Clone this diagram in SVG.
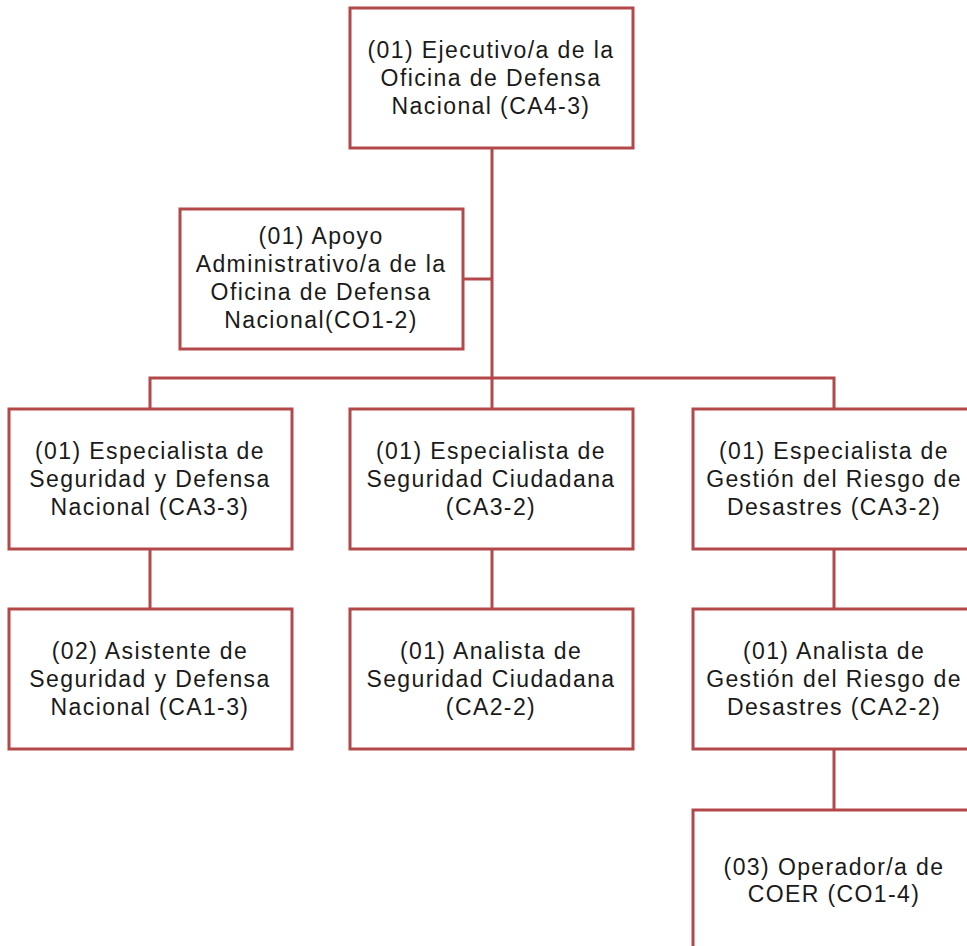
<svg xmlns="http://www.w3.org/2000/svg" width="967" height="946" viewBox="0 0 967 946">
  <style>
    .box { fill: #ffffff; stroke: #b3484b; stroke-width: 3; }
    .link { fill: none; stroke: #b3484b; stroke-width: 3; }
    .label { font-family: "Liberation Sans", Arial, sans-serif; font-size: 23px; letter-spacing: 1.4px; fill: #1a1a1a; text-anchor: middle; }
  </style>
  <rect width="967" height="946" fill="#ffffff"/>

  <g id="connectors">
    <path class="link" d="M492 149 V378"/>
    <path class="link" d="M463 279 H492"/>
    <path class="link" d="M150 409 V378 H834 V409"/>
    <path class="link" d="M492 378 V409"/>
    <path class="link" d="M150 549 V609"/>
    <path class="link" d="M492 549 V609"/>
    <path class="link" d="M834 549 V609"/>
    <path class="link" d="M834 749 V810"/>
  </g>

  <g id="ejecutivo">
    <rect class="box" x="350" y="8" width="283" height="140"/>
    <text class="label" x="491" y="58">(01) Ejecutivo/a de la</text>
    <text class="label" x="491" y="86">Oficina de Defensa</text>
    <text class="label" x="491" y="114">Nacional (CA4-3)</text>
  </g>

  <g id="apoyo">
    <rect class="box" x="180" y="209" width="283" height="140"/>
    <text class="label" x="321" y="244">(01) Apoyo</text>
    <text class="label" x="321" y="272">Administrativo/a de la</text>
    <text class="label" x="321" y="300">Oficina de Defensa</text>
    <text class="label" x="321" y="328">Nacional(CO1-2)</text>
  </g>

  <g id="esp-seguridad-defensa">
    <rect class="box" x="9" y="409" width="283" height="140"/>
    <text class="label" x="150" y="459">(01) Especialista de</text>
    <text class="label" x="150" y="487">Seguridad y Defensa</text>
    <text class="label" x="150" y="515">Nacional (CA3-3)</text>
  </g>

  <g id="esp-seguridad-ciudadana">
    <rect class="box" x="350" y="409" width="283" height="140"/>
    <text class="label" x="491" y="459">(01) Especialista de</text>
    <text class="label" x="491" y="487">Seguridad Ciudadana</text>
    <text class="label" x="491" y="515">(CA3-2)</text>
  </g>

  <g id="esp-gestion-riesgo">
    <rect class="box" x="693" y="409" width="283" height="140"/>
    <text class="label" x="834" y="459">(01) Especialista de</text>
    <text class="label" x="834" y="487">Gestión del Riesgo de</text>
    <text class="label" x="834" y="515">Desastres (CA3-2)</text>
  </g>

  <g id="asistente-seguridad-defensa">
    <rect class="box" x="9" y="609" width="283" height="140"/>
    <text class="label" x="150" y="659">(02) Asistente de</text>
    <text class="label" x="150" y="687">Seguridad y Defensa</text>
    <text class="label" x="150" y="715">Nacional (CA1-3)</text>
  </g>

  <g id="analista-seguridad-ciudadana">
    <rect class="box" x="350" y="609" width="283" height="140"/>
    <text class="label" x="491" y="659">(01) Analista de</text>
    <text class="label" x="491" y="687">Seguridad Ciudadana</text>
    <text class="label" x="491" y="715">(CA2-2)</text>
  </g>

  <g id="analista-gestion-riesgo">
    <rect class="box" x="693" y="609" width="283" height="140"/>
    <text class="label" x="834" y="659">(01) Analista de</text>
    <text class="label" x="834" y="687">Gestión del Riesgo de</text>
    <text class="label" x="834" y="715">Desastres (CA2-2)</text>
  </g>

  <g id="operador-coer">
    <rect class="box" x="693" y="810" width="283" height="160"/>
    <text class="label" x="834" y="875">(03) Operador/a de</text>
    <text class="label" x="834" y="902">COER (CO1-4)</text>
  </g>
</svg>
